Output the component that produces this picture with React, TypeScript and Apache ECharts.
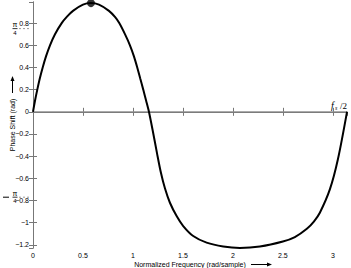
import React, { useEffect, useRef } from "react";
import * as echarts from "echarts";

const freq = [0, 0.02, 0.043, 0.068, 0.097, 0.13, 0.17, 0.22, 0.287, 0.34, 0.4, 0.5, 0.58, 0.66, 0.76, 0.82, 0.863, 0.92, 0.97, 1.01, 1.043, 1.073, 1.103, 1.132, 1.16, 1.2, 1.24, 1.28, 1.32, 1.37, 1.437, 1.503, 1.603, 1.737, 1.903, 2.07, 2.27, 2.5, 2.62, 2.74, 2.81, 2.87, 2.97, 3.05, 3.1416];
const phase = [0, 0.1, 0.2, 0.3, 0.4, 0.5, 0.6, 0.7, 0.8, 0.858, 0.91, 0.966, 0.98, 0.966, 0.91, 0.855, 0.8, 0.7, 0.6, 0.5, 0.4, 0.3, 0.2, 0.1, 0, -0.18, -0.37, -0.55, -0.69, -0.82, -0.94, -1.03, -1.12, -1.18, -1.215, -1.228, -1.215, -1.17, -1.13, -1.055, -0.99, -0.91, -0.7, -0.43, 0];
const peakPoint = [0.58, 0.98];
const xRange = [0, Math.PI];
const yRange = [-1.228, 0.99];
const quarterMarks = [0.75, -0.77];
const FONT = "Liberation Sans, Arial, sans-serif";

const fmt = (v: number) => {
  const s = String(Math.round(v * 1000) / 1000);
  return s.replace("-", "\u2212");
};

export default function App() {
  const ref = useRef<HTMLDivElement>(null);
  useEffect(() => {
    if (!ref.current) return;
    const chart = echarts.init(ref.current, undefined, { renderer: "svg" });
    const axisColor = "#777";
    const baseX = {
      type: "value" as const,
      min: xRange[0],
      max: xRange[1],
      splitNumber: 6,
      splitLine: { show: false },
      axisLine: { show: true, lineStyle: { color: axisColor, width: 1 } },
      axisTick: { show: true, inside: true, length: 4, lineStyle: { color: axisColor } },
    };
    const baseY = {
      type: "value" as const,
      min: yRange[0],
      max: yRange[1],
      splitNumber: 11,
      splitLine: { show: false },
      axisLine: { show: true, lineStyle: { color: axisColor, width: 1 } },
      axisTick: { show: true, inside: true, length: 4, lineStyle: { color: axisColor } },
    };
    chart.setOption({
      animation: false,
      grid: { left: 33, top: 2, right: 4, bottom: 20 },
      xAxis: [
        {
          ...baseX,
          position: "bottom",
          axisLabel: {
            fontSize: 7,
            color: "#000",
            fontFamily: FONT,
            margin: 4,
            showMinLabel: true,
            showMaxLabel: false,
            formatter: (v: number) => fmt(v),
          },
        },
        { ...baseX, position: "top", axisLabel: { show: false } },
      ],
      yAxis: [
        {
          ...baseY,
          position: "left",
          axisLabel: {
            fontSize: 7,
            color: "#000",
            fontFamily: FONT,
            margin: 4,
            showMinLabel: false,
            showMaxLabel: false,
            formatter: (v: number) => fmt(v),
          },
        },
        { ...baseY, position: "right", axisLabel: { show: false } },
      ],
      series: [
        {
          type: "line",
          data: [[xRange[0], 0], [xRange[1], 0]],
          symbol: "none",
          lineStyle: { color: "#888", width: 1 },
          z: 1,
        },
        {
          type: "line",
          data: freq.map((f, i) => [f, phase[i]]),
          symbol: "none",
          smooth: 0.3,
          lineStyle: { color: "#000", width: 2 },
          z: 3,
        },
        {
          type: "scatter",
          data: [peakPoint],
          symbolSize: 8,
          itemStyle: { color: "#000" },
          z: 4,
        },
      ],
    });

    const px = (x: number, y: number) => chart.convertToPixel({ gridIndex: 0 }, [x, y]) as number[];
    const graphics: any[] = [];
    const left = px(xRange[0], 0)[0];
    const right = px(xRange[1], 0)[0];
    const top = px(0, yRange[1])[1];
    const bottom = px(0, yRange[0])[1];
    const zeroY = px(0, 0)[1];

    quarterMarks.forEach((v) => {
      const y = px(0, v)[1];
      graphics.push({
        type: "line",
        shape: { x1: left - 14, y1: y, x2: left - 2, y2: y },
        style: { stroke: "#999", lineWidth: 1, lineDash: [2, 2] },
      });
      const cx = left - 18;
      graphics.push({
        type: "text",
        x: cx,
        y: y - 0.5,
        style: { text: "\u03c0", font: `7px ${FONT}`, fill: "#000", align: "center", verticalAlign: "bottom" },
      });
      graphics.push({
        type: "line",
        shape: { x1: cx - 2.5, y1: y, x2: cx + 2.5, y2: y },
        style: { stroke: "#000", lineWidth: 0.8 },
      });
      graphics.push({
        type: "text",
        x: cx,
        y: y + 1,
        style: { text: "4", font: `6px ${FONT}`, fill: "#000", align: "center", verticalAlign: "top" },
      });
      if (v < 0) {
        graphics.push({
          type: "line",
          shape: { x1: cx - 12, y1: y, x2: cx - 6, y2: y },
          style: { stroke: "#000", lineWidth: 1 },
        });
      }
    });

    // y-axis title and arrow
    graphics.push({
      type: "text",
      x: 12,
      y: (top + bottom) / 2,
      rotation: Math.PI / 2,
      style: { text: "Phase Shift (rad)", font: `7px ${FONT}`, fill: "#000", align: "center", verticalAlign: "middle" },
    });
    graphics.push({
      type: "line",
      shape: { x1: 12.5, y1: 93, x2: 12.5, y2: 80 },
      style: { stroke: "#000", lineWidth: 1 },
    });
    graphics.push({
      type: "polygon",
      shape: { points: [[10.5, 81], [14.5, 81], [12.5, 76]] },
      style: { fill: "#000" },
    });

    // x-axis title and arrow
    const midX = (left + right) / 2;
    graphics.push({
      type: "text",
      x: midX,
      y: 264,
      style: { text: "Normalized Frequency (rad/sample)", font: `7px ${FONT}`, fill: "#000", align: "center", verticalAlign: "middle" },
    });
    graphics.push({
      type: "line",
      shape: { x1: 251, y1: 264.5, x2: 268, y2: 264.5 },
      style: { stroke: "#000", lineWidth: 1 },
    });
    graphics.push({
      type: "polygon",
      shape: { points: [[267, 262.5], [267, 266.5], [272, 264.5]] },
      style: { fill: "#000" },
    });

    // fs/2 label
    graphics.push({
      type: "text",
      x: right - 16,
      y: zeroY - 6,
      style: { text: "f", font: `italic 10px "Liberation Serif", serif`, fill: "#000", align: "left", verticalAlign: "middle" },
    });
    graphics.push({
      type: "text",
      x: right - 12,
      y: zeroY - 4,
      style: { text: "s", font: `italic 6px "Liberation Serif", serif`, fill: "#000", align: "left", verticalAlign: "middle" },
    });
    graphics.push({
      type: "text",
      x: right - 7,
      y: zeroY - 6,
      style: { text: "/2", font: `9px "Liberation Serif", serif`, fill: "#000", align: "left", verticalAlign: "middle" },
    });

    chart.setOption({ graphic: graphics });
    return () => chart.dispose();
  }, []);
  return <div ref={ref} style={{ width: 351, height: 268, position: "absolute", left: 0, top: 0, background: "#fff" }} />;
}
